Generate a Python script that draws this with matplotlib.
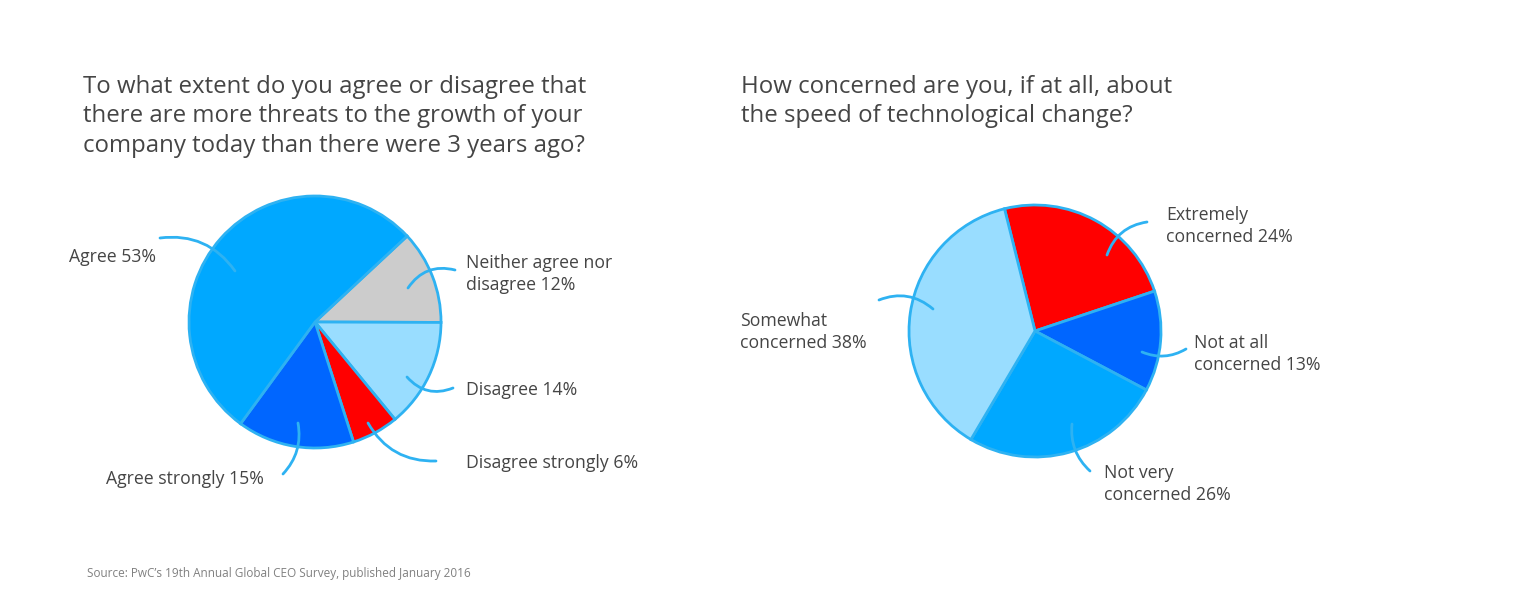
import numpy as np
import matplotlib.pyplot as plt

W, H = 1538, 616

# left pie data
left_title = ["To what extent do you agree or disagree that",
              "there are more threats to the growth of your",
              "company today than there were 3 years ago?"]
left_labels = ["Neither agree nor\ndisagree 12%", "Disagree 14%", "Disagree strongly 6%",
               "Agree strongly 15%", "Agree 53%"]
left_values = [12, 14, 6, 15, 53]
left_colors = ["#CCCCCC", "#99DDFF", "#FF0000", "#0066FF", "#00A8FF"]

# right pie data
right_title = ["How concerned are you, if at all, about",
               "the speed of technological change?"]
right_labels = ["Extremely\nconcerned 24%", "Not at all\nconcerned 13%",
                "Not very\nconcerned 26%", "Somewhat\nconcerned 38%"]
right_values = [24, 13, 26, 38]
right_colors = ["#FF0000", "#0066FF", "#00A8FF", "#99DDFF"]

source = "Source: PwC\u2019s 19th Annual Global CEO Survey, published January 2016"

edge = "#2EB2F2"
txt = "#454545"
plt.rcParams['font.family'] = ['Open Sans', 'DejaVu Sans']

fig = plt.figure(figsize=(W / 100, H / 100), dpi=100)
ax = fig.add_axes([0, 0, 1, 1])


def Y(y):
    return H - y


ax.pie(left_values, colors=left_colors, startangle=43, counterclock=False,
       center=(315, Y(322)), radius=126, frame=True,
       wedgeprops=dict(edgecolor=edge, linewidth=2))
ax.pie(right_values, colors=right_colors, startangle=104, counterclock=False,
       center=(1035, Y(331)), radius=126, frame=True,
       wedgeprops=dict(edgecolor=edge, linewidth=2))

ax.set_xlim(0, W)
ax.set_ylim(0, H)
ax.set_aspect('auto')
ax.axis('off')

# titles
for i, line in enumerate(left_title):
    ax.text(83, Y(93 + i * 29.5), line, fontsize=17.25, color=txt, va='baseline')
for i, line in enumerate(right_title):
    ax.text(741, Y(93 + i * 29.5), line, fontsize=17.25, color=txt, va='baseline')

# label text: (x, y of first line center)
left_pos = [(466, 263), (466, 390), (466, 463), (106, 479), (69, 257)]
right_pos = [(1166, 215), (1194, 343), (1104, 473), (740, 321)]
# connectors: start near text, end inside pie, curvature
left_conn = [((455, 270), (408, 288), 0.35), ((453, 388), (407, 377), -0.35),
             ((436, 461), (368, 423), -0.3), ((283, 474), (298, 423), 0.25),
             ((160, 238), (235, 271), -0.3)]
right_conn = [((1147, 222), (1107, 255), 0.3), ((1186, 349), (1142, 352), -0.25),
              ((1090, 471), (1072, 424), -0.25), ((879, 300), (933, 309), -0.3)]

for labels, pos, conns in [(left_labels, left_pos, left_conn),
                           (right_labels, right_pos, right_conn)]:
    for lab, (x, y), (s, e, rad) in zip(labels, pos, conns):
        for j, line in enumerate(lab.split("\n")):
            ax.text(x, Y(y + j * 21.5), line, fontsize=12.7, color=txt, va='center')
        ax.annotate('', xy=(e[0], Y(e[1])), xytext=(s[0], Y(s[1])),
                    arrowprops=dict(arrowstyle='-', color=edge, lw=2,
                                    connectionstyle='arc3,rad=%s' % rad,
                                    shrinkA=0, shrinkB=0))

ax.text(87, Y(573), source, fontsize=8.5, color="#808080", va='center')

fig.savefig("out.png", dpi=100, facecolor="white")
